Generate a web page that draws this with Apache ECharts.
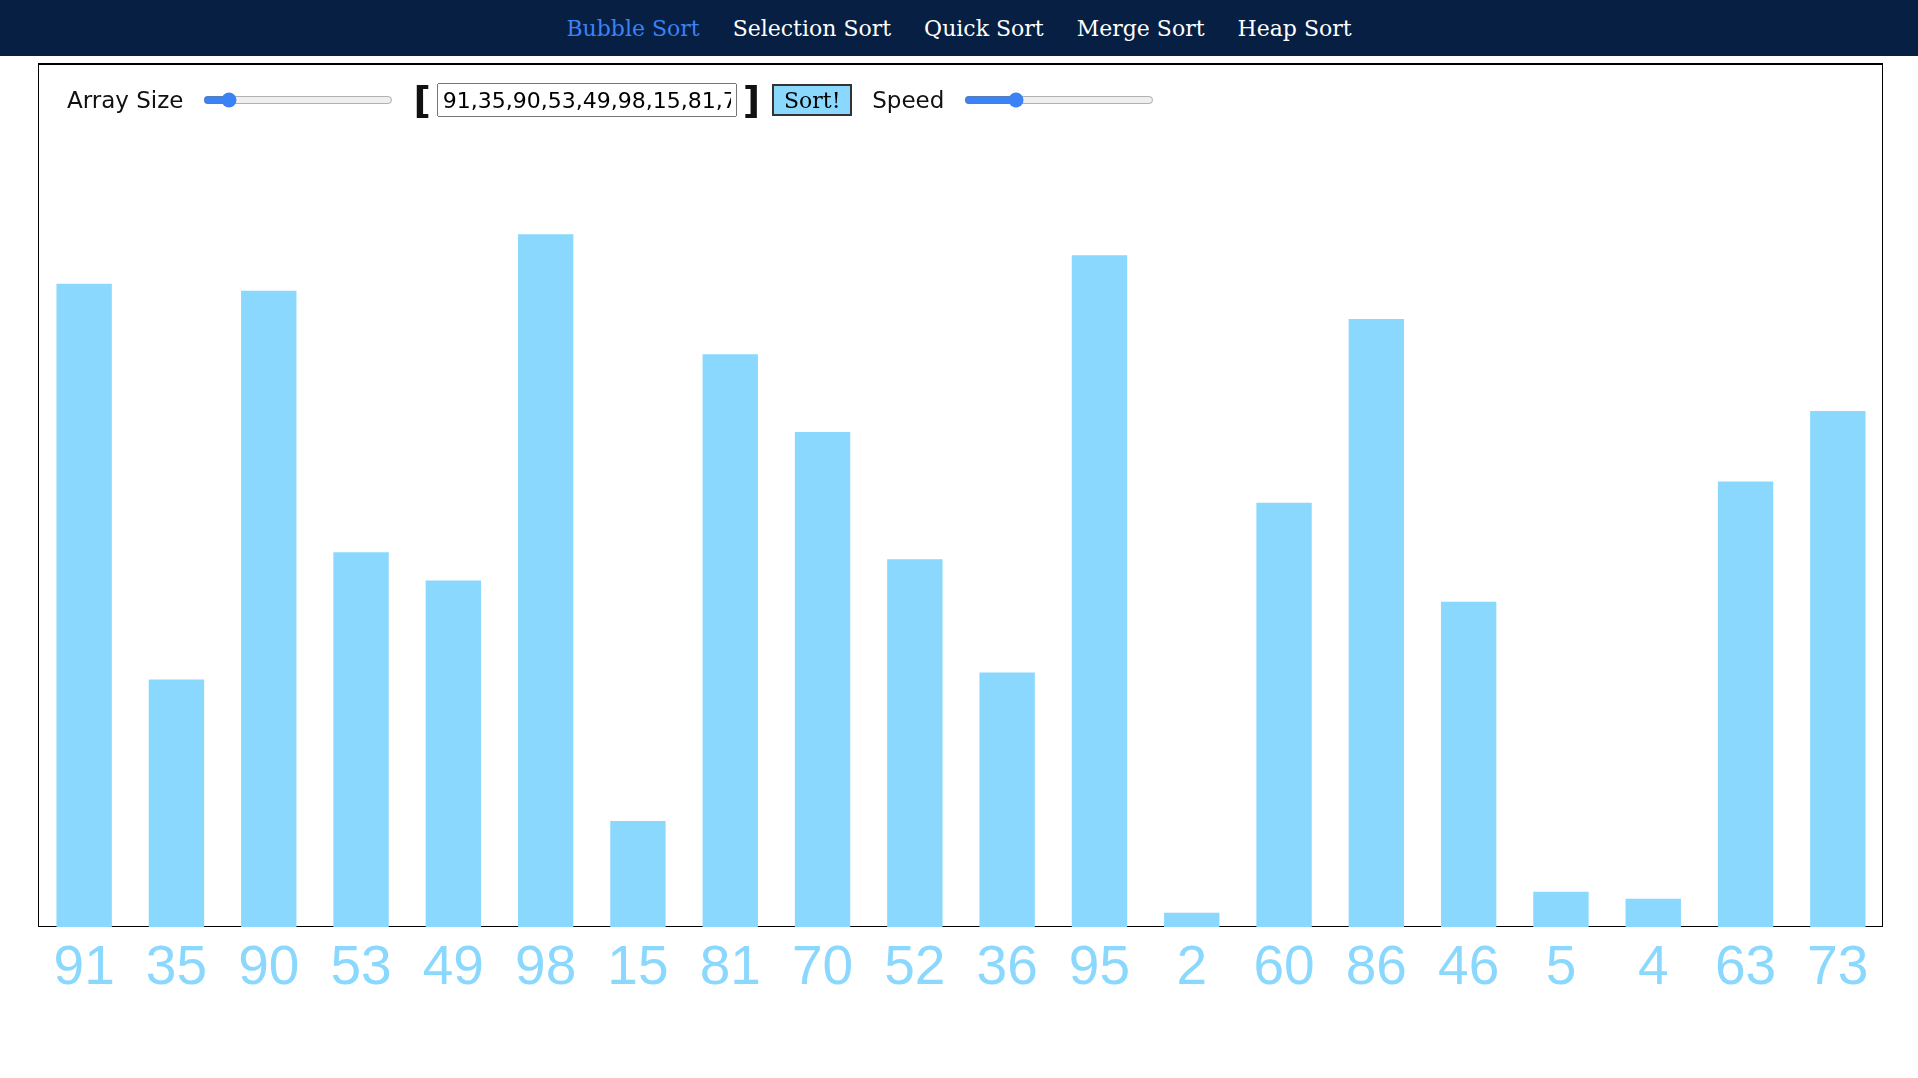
<!DOCTYPE html>
<html><head><meta charset="utf-8">
<script src="https://cdn.jsdelivr.net/npm/echarts@6/dist/echarts.min.js"></script>
<style>
body{margin:0;width:1918px;height:1078px;background:#fff;position:relative;overflow:hidden;font-family:"DejaVu Sans",sans-serif}
#nav{height:56px;background:#061f42;display:flex;justify-content:center;align-items:center;gap:33px;font-family:"DejaVu Serif",serif;font-size:22px;color:#fff}
#nav .on{color:#3b82f6}
#box{position:absolute;left:38px;top:63px;width:1845px;height:864px;border:1px solid #000;border-top:2px solid #000;box-sizing:border-box}
#ctl{position:absolute;left:67px;top:78px;display:flex;align-items:center;font-size:23px;color:#111;z-index:2}
input[type=range]{width:190px;margin:0 14px 0 20px;accent-color:#3b82f6}
.br{font-size:38px;font-weight:bold;margin:0 6px}
#arr{width:300px;height:34px;font-size:22px;font-family:"DejaVu Sans";box-sizing:border-box;padding:2px 4px}
#sort{font-family:"DejaVu Serif";font-size:22px;background:#8ad8fd;border:2px solid #333;width:80px;height:32px;padding:0;margin:0 20px 0 6px}
#chart{position:absolute;left:0;top:0;width:1918px;height:1078px}
</style></head><body>
<div id="nav"><span class="on">Bubble Sort</span><span>Selection Sort</span><span>Quick Sort</span><span>Merge Sort</span><span>Heap Sort</span></div>
<div id="box"></div>
<div id="chart"></div>
<div id="ctl">Array Size<input type="range" min="0" max="100" value="10"><span class="br">[</span><input id="arr" value="91,35,90,53,49,98,15,81,70,52,36,95,2,60,86,46,5,4,63,73"><span class="br">]</span><button id="sort">Sort!</button>Speed<input type="range" min="0" max="100" value="25"></div>
<script>
const values = [91, 35, 90, 53, 49, 98, 15, 81, 70, 52, 36, 95, 2, 60, 86, 46, 5, 4, 63, 73];
const labels = values.map(String);

const chart = echarts.init(document.getElementById('chart'));
chart.setOption({
    animation: false,
    grid: { left: 38, top: 220, width: 1846, height: 707 },
    xAxis: {
        type: 'category', data: labels,
        axisLine: { show: false }, axisTick: { show: false },
        axisLabel: { color: '#8ad8fd', fontSize: 55, fontFamily: 'Liberation Sans', margin: 14 },
    },
    yAxis: { type: 'value', min: 0, max: 100, show: false, splitLine: { show: false } },
    series: [{ type: 'bar', data: values, barWidth: '60%', itemStyle: { color: '#8ad8fd' } }],
});
</script>
</body></html>
